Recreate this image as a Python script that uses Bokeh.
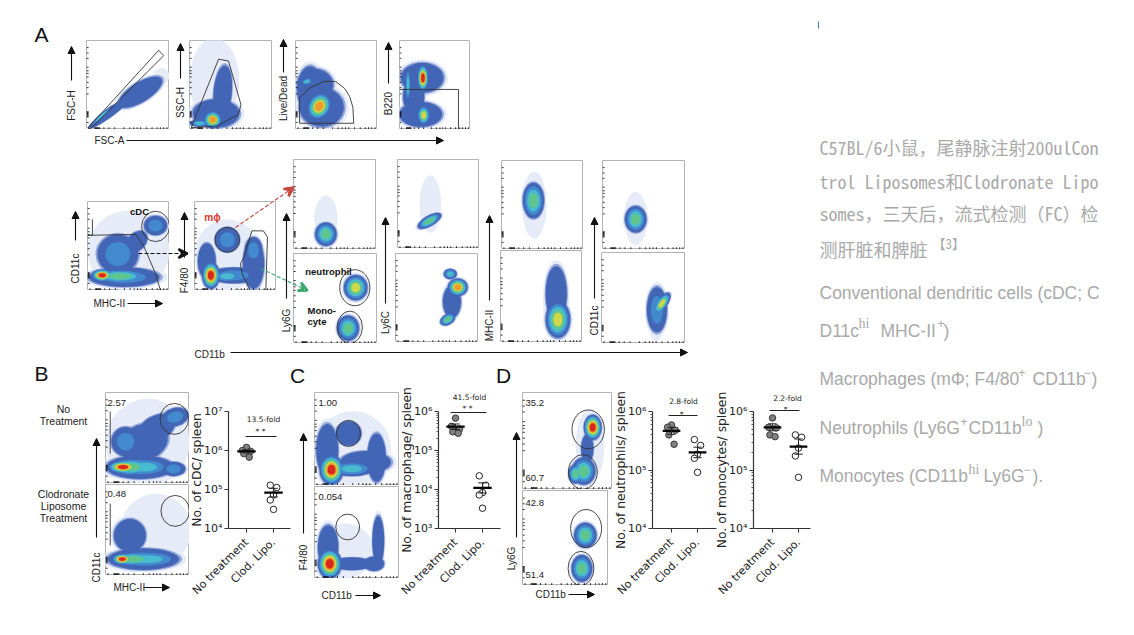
from bokeh.plotting import figure
from bokeh.models import (Column, Range1d, FixedTicker, Label, Arrow, NormalHead, VeeHead)
from bokeh.embed import file_html
from bokeh.resources import INLINE

# ---------- density colour levels ----------
LEVELS = ["#e6ebf8", "#93a6da", "#4265b5", "#4289cf", "#48bbd0", "#5fc58c", "#cfd84a", "#f09a2b", "#d9281e"]
TICKS_X = [3, 10, 11, 12, 13, 14, 15, 16, 21, 27, 34, 45, 52, 57, 61, 65, 72, 79, 85, 89, 93, 97]
TICKS_Y = [8, 14, 15, 16, 17, 18, 19, 20, 40, 47, 53, 59, 63, 66, 70, 80, 86, 92]

# blobs: centre x, centre y, radius x, radius y, angle, peak level (percent of the panel)
A1_BLOBS = [(30, 20, 32, 4.5, 37, 1), (65, 42, 30, 11, 32, 1), (90, 60, 10, 9, 30, 0), (18, 15, 20, 2.5, 42, 3)]
A2_BLOBS = [(30, 55, 30, 48, 0, 0), (40, 42, 11, 30, -5, 1), (32, 18, 28, 16, 0, 1), (12, 7, 12, 4, 0, 3), (28, 11, 11, 10, 0, 6)]
A3_BLOBS = [(18, 45, 16, 26, 0, 1), (32, 25, 27, 22, 0, 1), (24, 50, 22, 18, 0, 1), (29, 26, 14, 16, -30, 6), (14, 54, 7, 4, 15, 3)]
A4_BLOBS = [(32, 58, 30, 17, 0, 1), (30, 17, 30, 14, 0, 1), (20, 37, 15, 20, 0, 1), (12, 50, 4, 20, 0, 3), (33, 58, 8, 15, 0, 7), (34, 16, 9, 11, 0, 5)]
CDC_BLOBS = [(50, 45, 50, 45, 0, 0), (37, 41, 25, 22, 0, 2), (45, 15, 43, 11, 0, 2), (60, 55, 15, 10, 45, 1), (83, 73, 14, 11, 0, 2), (40, 16, 32, 8, 0, 4), (18, 17, 13, 7, 0, 7)]
F480_BLOBS = [(40, 40, 40, 40, 0, 0), (40, 57, 15, 14, 0, 2), (48, 17, 30, 9, 0, 2), (40, 16, 18, 7, 0, 3), (15, 33, 11, 20, 0, 1), (72, 30, 13, 28, 0, 1), (72, 45, 11, 15, 0, 2), (20, 17, 11, 15, 0, 7)]
T1_BLOBS = [(39, 35, 14, 25, 0, 0), (39, 17, 13, 13, 0, 4)]
T2_BLOBS = [(40, 50, 13, 32, 0, 0), (39, 31, 16, 6, 30, 4)]
T3_BLOBS = [(40, 50, 15, 38, 0, 0), (39, 55, 13, 20, 0, 4)]
T4_BLOBS = [(40, 35, 14, 30, 0, 0), (40, 34, 13, 15, 0, 4)]
L1_BLOBS = [(74, 62, 14, 14, 0, 5), (65, 17, 13, 14, 0, 4)]
L2_BLOBS = [(68, 46, 11, 18, 0, 1), (66, 77, 8, 6, 0, 3), (75, 62, 12, 10, 0, 6), (63, 26, 10, 6, 30, 4)]
L3_BLOBS = [(68, 45, 16, 42, 0, 0), (68, 53, 13, 30, 0, 1), (70, 25, 15, 20, 0, 5)]
L4_BLOBS = [(65, 30, 10, 28, 0, 0), (66, 37, 12, 25, 0, 2), (72, 44, 15, 6, 55, 5)]
B1_BLOBS = [(50, 45, 50, 48, 0, 0), (41, 18, 40, 13, 0, 2), (81, 16, 14, 8, 0, 2), (24, 46, 17, 16, 0, 2), (83, 73, 16, 10, 15, 2), (45, 45, 30, 20, 20, 1), (60, 60, 25, 14, 30, 1), (47, 18, 30, 10, 0, 3), (30, 18, 27, 10, 0, 4), (21, 18, 18, 7, 0, 7)]
B2_BLOBS = [(60, 50, 42, 40, 0, 0), (45, 18, 42, 12, 0, 2), (29, 44, 19, 18, 0, 1), (50, 18, 38, 9, 0, 3), (33, 18, 30, 8, 0, 4), (20, 18, 12, 6, 0, 7)]
C1_BLOBS = [(45, 40, 45, 40, 0, 0), (15, 38, 13, 28, 0, 1), (73, 30, 11, 26, 0, 1), (40, 56, 15, 13, 0, 1), (60, 25, 30, 12, 0, 1), (44, 18, 25, 8, 0, 3), (20, 17, 14, 16, 0, 7)]
C2_BLOBS = [(35, 30, 35, 30, 0, 0), (16, 34, 12, 24, 0, 1), (44, 16, 25, 7, 0, 1), (75, 41, 7, 27, 0, 1), (70, 16, 12, 8, 0, 1), (18, 16, 14, 16, 0, 7)]
D1_BLOBS = [(75, 45, 16, 38, 0, 0), (72, 42, 7, 15, 0, 1), (68, 19, 13, 14, 0, 4), (59, 16, 8, 10, 0, 4), (78, 64, 10, 13, 0, 7)]
D2_BLOBS = [(73, 53, 13, 13, 0, 4), (69, 18, 12, 14, 0, 4)]

# gates
A1_GATE = ([2, 87, 93, 4, 2], [2, 89, 83, 0, 2])
A2_GATE = ([2, 35, 47, 62, 59, 33, 2], [2, 79, 77, 28, 17, 4, 2])
A3_GATE = ([5, 71, 70, 66, 60, 49, 35, 18, 5, 5], [7, 7, 25, 37, 46, 54, 54, 47, 36, 7])
A4_GATE = ([0, 83, 83, 0], [0, 0, 45, 45])
CDC_GATE = ([6, 6, 0, 59, 64, 69, 76, 83, 89], [80, 62, 62, 63, 56, 49, 34, 19, 0])
F480_GATE = ([60, 70, 84, 89, 87, 68, 58, 56, 60], [37, 67, 67, 60, 0, 0, 19, 30, 37])
B_MARK = ([5.6, 5.6], [79, 33])

# dot plots: log10 values, offsets are in units of the category spacing
CATEGORIES = ["No treatment", "Clod. Lipo."]
CDC_NT = [6.08, 6.0, 5.98, 5.92, 5.83]
CDC_CL = [5.11, 5.05, 4.86, 4.73, 4.49]
MAC_NT = [5.83, 5.62, 5.55, 5.48, 5.44]
MAC_CL = [4.35, 4.11, 3.92, 3.86, 3.52]
NEU_NT = [5.77, 5.73, 5.68, 5.60, 5.44]
NEU_CL = [5.52, 5.42, 5.27, 5.20, 4.96]
MON_NT = [5.89, 5.73, 5.72, 5.60, 5.57]
MON_CL = [5.60, 5.56, 5.375, 5.24, 4.875]
OFFSETS_NT = [0.0, -0.15, 0.15, -0.1, 0.1]
OFFSETS_CL = [-0.12, 0.12, 0.0, -0.12, 0.0]
MEANS = {"cdc": (5.98, 4.92), "mac": (5.61, 4.04), "neu": (5.67, 5.30), "mon": (5.73, 5.40)}
SEMS = {"cdc": (0.04, 0.11), "mac": (0.07, 0.13), "neu": (0.06, 0.09), "mon": (0.06, 0.13)}

DARK = "#222222"
SANS = "Liberation Sans"
WIDE = "DejaVu Sans"
GREY = "#a9a9a9"


def place(x, y, **extra):
    return {"position": "absolute", "left": f"{x}px", "top": f"{y}px", **extra}


def flow(rect, blobs, gate_ell=(), gate_lines=()):
    x0, y0, x1, y1 = rect
    p = figure(width=x1 - x0, height=y1 - y0, output_backend="svg", toolbar_location=None,
               x_range=Range1d(0, 100), y_range=Range1d(0, 100), x_axis_type=None, y_axis_type=None,
               min_border=0, background_fill_color="white", border_fill_color=None, frame_align=False,
               outline_line_color="#b4b4b4", styles=place(x0, y0, filter="blur(0.5px)"))
    p.grid.visible = False
    tiers = {k: ([], [], [], [], []) for k in range(len(LEVELS))}
    for cx, cy, rx, ry, ang, peak in blobs:
        if peak == 0:
            rows = [(0, 1.0)]
        else:
            rows = [(0, 1.22), (1, 1.09)] + [(k + 1, 1 - (k - 1) / peak * 0.78) for k in range(1, peak + 1)]
        for k, s in rows:
            for lst, v in zip(tiers[k], (cx, cy, 2 * rx * s, 2 * ry * s, ang)):
                lst.append(v)
    for k in range(len(LEVELS)):
        xs, ys, ws, hs, ans = tiers[k]
        if xs:
            p.ellipse(xs, ys, width=ws, height=hs, angle=ans, angle_units="deg",
                      fill_color=LEVELS[k], line_color=None)
    if gate_ell:
        p.ellipse([g[0] for g in gate_ell], [g[1] for g in gate_ell],
                  width=[2 * g[2] for g in gate_ell], height=[2 * g[3] for g in gate_ell],
                  fill_color=None, line_color="#333333", line_width=0.9)
    for gx, gy in gate_lines:
        p.line(gx, gy, line_color="#333333", line_width=0.9)
    p.segment(TICKS_X, [0] * len(TICKS_X), TICKS_X, [2.5] * len(TICKS_X), line_color="#111111", line_width=0.9)
    p.segment([0] * len(TICKS_Y), TICKS_Y, [2.5] * len(TICKS_Y), TICKS_Y, line_color="#111111", line_width=0.9)
    return p


def dots(rect, key, nt, cl, label, decades, minor):
    x0, y0, x1, y1, cat0, cat1 = rect
    left, bottom, top, right = 60, 80, 30, 3
    sp = cat1 - cat0
    p = figure(width=x1 - x0 + left + right, height=y1 - y0 + bottom + top, output_backend="svg",
               toolbar_location=None, y_axis_type="log", frame_align=False,
               x_range=Range1d(-(cat0 - x0) / sp, 1 + (x1 - cat1) / sp),
               y_range=Range1d(10.0 ** decades[0], 10.0 ** decades[-1]),
               min_border_left=left, min_border_bottom=bottom, min_border_top=top, min_border_right=right,
               background_fill_color=None, border_fill_color=None, outline_line_color=None,
               styles=place(x0 - left, y0 - top))
    p.grid.visible = False
    sup = "⁰¹²³⁴⁵⁶⁷⁸⁹"
    ya, xa = p.yaxis[0], p.xaxis[0]
    ticks = [10.0 ** d for d in decades]
    minors = [m * 10.0 ** d for d in decades[:-1] for m in range(2, 10)] if minor else []
    ya.ticker = FixedTicker(ticks=ticks, minor_ticks=minors)
    ya.major_label_overrides = {10.0 ** d: "10" + sup[d] for d in decades}
    ya.axis_label = label
    ya.axis_label_text_font = WIDE
    ya.axis_label_text_font_style = "normal"
    ya.axis_label_text_font_size = "12.3px"
    ya.axis_label_text_color = DARK
    ya.axis_label_standoff = -3
    ya.major_label_text_font = WIDE
    ya.major_label_text_font_size = "11px"
    ya.major_label_text_color = DARK
    ya.major_label_standoff = 2
    xa.ticker = FixedTicker(ticks=[0, 1])
    xa.major_label_overrides = {0: CATEGORIES[0], 1: CATEGORIES[1]}
    xa.major_label_orientation = 0.785
    xa.major_label_text_font = WIDE
    xa.major_label_text_font_size = "11px"
    xa.major_label_text_color = DARK
    xa.major_label_standoff = 8
    for ax in (xa, ya):
        ax.axis_line_color = "#333333"
        ax.axis_line_width = 1.2
        ax.major_tick_line_color = "#333333"
        ax.major_tick_in = 0
        ax.major_tick_out = 4
        ax.minor_tick_in = 0
        ax.minor_tick_out = 2
        ax.minor_tick_line_color = "#555555" if ax is ya and minor else None
    p.scatter([0 + o for o in OFFSETS_NT], [10 ** v for v in nt], size=6.5,
              fill_color="#808080", line_color="#3a3a3a", line_width=1)
    p.scatter([1 + o for o in OFFSETS_CL], [10 ** v for v in cl], size=6.5,
              fill_color="white", line_color="#222222", line_width=1)
    for i in (0, 1):
        m, s = MEANS[key][i], SEMS[key][i]
        p.segment([i - 0.34], [10 ** m], [i + 0.34], [10 ** m], line_color="black", line_width=2.2)
        p.segment([i], [10 ** (m - s)], [i], [10 ** (m + s)], line_color="#222222", line_width=1)
        p.segment([i - 0.16, i - 0.16], [10 ** (m - s), 10 ** (m + s)],
                  [i + 0.16, i + 0.16], [10 ** (m - s), 10 ** (m + s)], line_color="#222222", line_width=1)
    return p


panels = [
    flow((86, 40, 169, 129), A1_BLOBS, gate_lines=[A1_GATE]),
    flow((189, 40, 272, 129), A2_BLOBS, gate_lines=[A2_GATE]),
    flow((295, 40, 377, 129), A3_BLOBS, gate_lines=[A3_GATE]),
    flow((399, 40, 470, 129), A4_BLOBS, gate_lines=[A4_GATE]),
    flow((87, 201, 169, 290), CDC_BLOBS, gate_ell=[(83, 72, 17, 17)], gate_lines=[CDC_GATE]),
    flow((194, 201, 276, 290), F480_BLOBS, gate_ell=[(40, 57, 15, 14)], gate_lines=[F480_GATE]),
    flow((293, 159, 376, 249), T1_BLOBS),
    flow((293, 253, 377, 343), L1_BLOBS, gate_ell=[(73, 62, 18, 20), (67, 18, 15, 18)]),
    flow((397, 159, 479, 248), T2_BLOBS),
    flow((395, 253, 478, 342), L2_BLOBS),
    flow((501, 160, 583, 249), T3_BLOBS),
    flow((500, 250, 582, 342), L3_BLOBS),
    flow((602, 160, 685, 249), T4_BLOBS),
    flow((601, 252, 685, 343), L4_BLOBS),
    flow((105, 392, 189, 483), B1_BLOBS, gate_ell=[(82, 71, 17, 17)], gate_lines=[B_MARK]),
    flow((105, 484, 189, 575), B2_BLOBS, gate_ell=[(83, 71, 17, 17)], gate_lines=[B_MARK]),
    flow((314, 392, 399, 485), C1_BLOBS, gate_ell=[(40, 56, 14, 14)]),
    flow((314, 486, 399, 578), C2_BLOBS, gate_ell=[(39, 56, 14, 14)]),
    flow((522, 392, 612, 489), D1_BLOBS, gate_ell=[(73, 62, 18, 20), (67, 18, 16, 18)]),
    flow((522, 490, 608, 585), D2_BLOBS, gate_ell=[(74, 60, 18, 20), (68, 18, 15, 18)]),
]
plots = [
    dots((228, 411, 290, 528, 246, 273), "cdc", CDC_NT, CDC_CL, "No. of cDC/ spleen", [4, 5, 6, 7], False),
    dots((438, 411, 500, 528, 455, 482), "mac", MAC_NT, MAC_CL, "No. of macrophage/ spleen", [3, 4, 5, 6], True),
    dots((652, 411, 716, 528, 671, 697), "neu", NEU_NT, NEU_CL, "No. of neutrophils/ spleen", [4, 5, 6], True),
    dots((753, 411, 810, 528, 772, 798), "mon", MON_NT, MON_CL, "No. of monocytes/ spleen", [4, 5, 6], True),
]

# overlay in page coordinates
W, H = 1118, 619
ov = figure(width=W, height=H, output_backend="svg", toolbar_location=None,
            x_range=Range1d(0, W), y_range=Range1d(H, 0), x_axis_type=None, y_axis_type=None, frame_align=False,
            min_border=0, background_fill_color=None, border_fill_color=None, outline_line_color=None,
            styles=place(0, 0))
ov.grid.visible = False


def t(x, y, s, size=10, color=DARK, font=SANS, style="normal", align="left", angle=0):
    ov.add_layout(Label(x=x, y=y, text=s, text_font=font, text_font_size=f"{size}px", text_color=color,
                        text_font_style=style, text_align=align, text_baseline="middle",
                        angle=angle, angle_units="deg"))


def vt(x, y, s, size=10):
    t(x, y, s, size=size, align="center", angle=90)


def arr(x0, y0, x1, y1, color="#111111", width=1.1, dash="solid", head="normal", hs=7):
    h = NormalHead(size=hs, fill_color=color, line_color=color) if head == "normal" else \
        VeeHead(size=hs, fill_color=None, line_color=color, line_width=2.4)
    ov.add_layout(Arrow(end=h, x_start=x0, y_start=y0, x_end=x1, y_end=y1, line_color=color,
                        line_width=width, line_dash=dash))


for x, y, s in ((41, 34, "A"), (41, 373, "B"), (297, 375, "C"), (503, 375, "D")):
    t(x, y, s, size=21, align="center", color="#111111")

for x, y, s in ((71, 105, "FSC-H"), (180, 102, "SSC-H"), (283, 98, "Live/Dead"), (388, 103, "B220"),
                (75, 268, "CD11c"), (184, 280, "F4/80"), (286, 320, "Ly6G"), (385, 322, "Ly6C"),
                (489, 325, "MHC-II"), (594, 320, "CD11c"), (96, 567, "CD11c"), (303, 557, "F4/80"),
                (511, 558, "Ly6G")):
    vt(x, y, s)
for x0, y0, x1, y1 in ((71, 80, 71, 46), (180, 78, 180, 43), (283, 72, 283, 39), (388, 83, 388, 42),
                       (75, 240, 75, 211), (184, 257, 184, 212), (286, 298, 286, 213), (385, 303, 385, 217),
                       (489, 300, 489, 215), (594, 298, 594, 217), (96, 537, 96, 438), (303, 533, 303, 433),
                       (516, 537, 516, 432), (126, 140, 443, 140), (127, 303, 162, 303), (230, 352, 687, 352),
                       (143, 587, 169, 587), (355, 595, 380, 595), (568, 594, 594, 594)):
    arr(x0, y0, x1, y1)
t(94, 140, "FSC-A")
t(93, 303, "MHC-II")
t(194, 354, "CD11b")
t(113, 587, "MHC-II")
t(321, 595, "CD11b")
t(535, 594, "CD11b")

arr(138, 253, 187, 253, dash="4 2", head="vee", hs=9)
arr(235, 227, 293, 187, color="#c9443c", dash="4 2", head="vee", hs=9)
arr(260, 268, 307, 290, color="#3aa76d", dash="4 2", head="vee", hs=9)

t(139, 211, "cDC", size=9.5, style="bold", align="center", color="#111111")
t(212, 217, "mϕ", size=10, style="bold", align="center", color="#d23b2f")
t(328, 271, "neutrophil", size=9.5, style="bold", align="center", color="#111111")
t(307, 310, "Mono-", size=9.5, style="bold", color="#111111")
t(307, 321, "cyte", size=9.5, style="bold", color="#111111")

for y, s in ((408, "No"), (420, "Treatment"), (493, "Clodronate"), (505, "Liposome"), (517, "Treatment")):
    t(63, y, s, size=10.5, align="center")
for x, y, s in ((107, 402, "2.57"), (107, 493, "0.48"), (318, 402, "1.00"), (318, 496, "0.054"),
                (525, 402, "35.2"), (525, 477, "60.7"), (525, 502, "42.8"), (525, 574, "51.4")):
    t(x, y, s, size=9.5)

for x, y, s, lx0, lx1, ly, sx, sy, st in (
        (263, 419, "13.5-fold", 245, 276, 436, 260, 431, "* *"),
        (469, 397, "41.5-fold", 450, 486, 412, 467, 408, "* *"),
        (683, 401, "2.8-fold", 668, 697, 415, 681, 414, "*"),
        (787, 398, "2.2-fold", 769, 799, 410, 785, 409, "*")):
    t(x, y, s, size=7.5, align="center", font=WIDE)
    t(sx, sy, st, size=7.5, align="center", font=WIDE)
    ov.segment([lx0], [ly], [lx1], [ly], line_color="#222222", line_width=1)

ov.segment([818], [21], [818], [28], line_color="#3a78c2", line_width=1)

# right-hand text
CJK = "'Noto Sans Mono CJK SC', 'Noto Sans CJK SC'"
for y, s in ((146, "C57BL/6小鼠，尾静脉注射200ulCon"), (180, "trol Liposomes和Clodronate Lipo"),
             (212, "somes，三天后，流式检测（FC）检"), (248, "测肝脏和脾脏")):
    t(819, y, s, size=18, color=GREY, font=CJK)
t(932, 243, "【3】", size=13, color=GREY, font=CJK)

BODY = 17.5
rows = [
    (819, 292, "Conventional dendritic cells (cDC; C", BODY, SANS),
    (819, 330, "D11c", BODY, SANS), (858, 323, "hi", 14, "Liberation Serif"), (880, 330, "MHC-II", BODY, SANS),
    (937, 323, "+", 12, SANS), (943, 330, ")", BODY, SANS),
    (819, 378, "Macrophages (mΦ; F4/80", BODY, SANS), (1018, 372, "+", 12, SANS), (1032, 378, "CD11b", BODY, SANS),
    (1083, 372, "−", 12, SANS), (1091, 378, ")", BODY, SANS),
    (819, 427, "Neutrophils (Ly6G", BODY, SANS), (960, 421, "+", 12, SANS), (968, 427, "CD11b", BODY, SANS),
    (1021, 421, "lo", 14, "Liberation Serif"), (1037, 427, ")", BODY, SANS),
    (819, 475, "Monocytes (CD11b", BODY, SANS), (968, 469, "hi", 14, "Liberation Serif"), (983, 475, "Ly6G", BODY, SANS),
    (1023, 469, "−", 12, SANS), (1032, 475, ").", BODY, SANS),
]
for x, y, s, size, font in rows:
    t(x, y, s, size=size, color=GREY, font=font)

root = Column(children=panels + plots + [ov], width=W, height=H, styles={"position": "relative"})
open("out.html", "w").write(file_html(root, INLINE))
